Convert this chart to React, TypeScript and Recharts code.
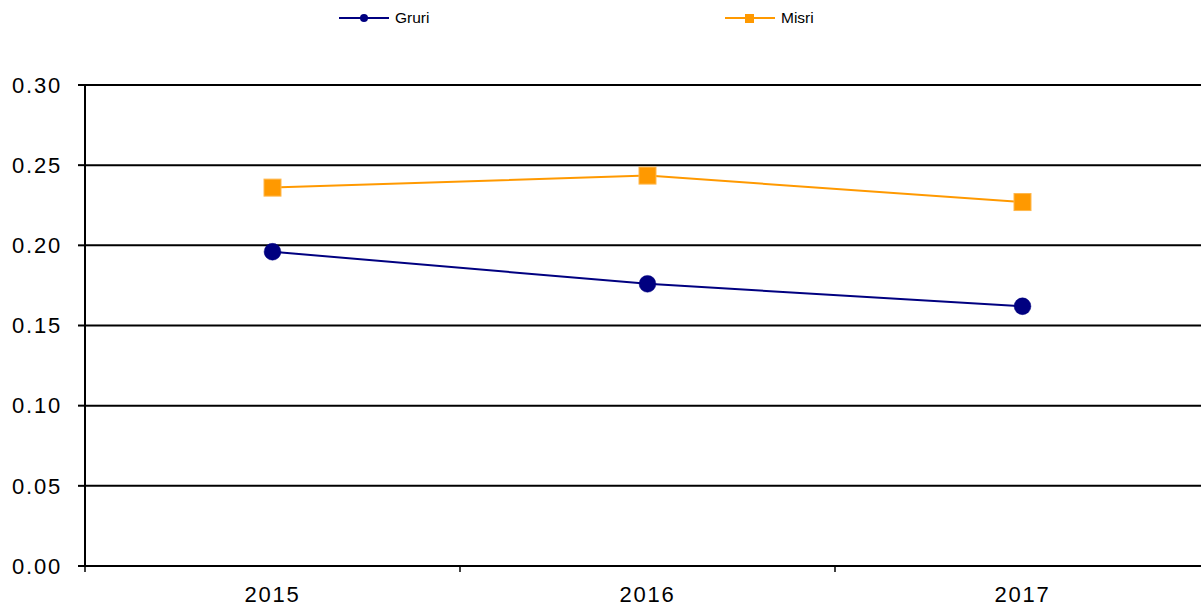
import React from 'react';
import { LineChart, Line, XAxis, YAxis, CartesianGrid } from 'recharts';

const years = ['2015', '2016', '2017'];
const gruri = [0.196, 0.176, 0.162];
const misri = [0.236, 0.2435, 0.227];
const yTicks = [0, 0.05, 0.1, 0.15, 0.2, 0.25, 0.3];

const series = [
  { key: 'gruri', name: 'Gruri', color: '#000080', marker: 'circle' },
  { key: 'misri', name: 'Misri', color: '#FF9900', marker: 'square' },
];

const data = years.map((year, i) => ({ year, gruri: gruri[i], misri: misri[i] }));

const BAND = 375;
const font = 'Arial, "Liberation Sans", sans-serif';

function CircleDot(props: any) {
  const { cx, cy } = props;
  return <circle cx={cx} cy={cy} r={8.4} fill="#000080" stroke="#000080" strokeWidth={0.5} />;
}

function SquareDot(props: any) {
  const { cx, cy } = props;
  return (
    <rect x={cx - 8.5} y={cy - 8.5} width={17} height={17} fill="#FF9900" stroke="#FFB84D" strokeWidth={1} />
  );
}

function YearTick(props: any) {
  const { x, y, payload, index } = props;
  return (
    <g>
      <line x1={x - BAND / 2} y1={y} x2={x - BAND / 2} y2={y + 6} stroke="#000" strokeWidth={1.5} />
      {index === years.length - 1 && (
        <line x1={x + BAND / 2} y1={y} x2={x + BAND / 2} y2={y + 6} stroke="#000" strokeWidth={1.5} />
      )}
      <text
        x={x}
        y={y + 20.5}
        dy="0.71em"
        textAnchor="middle"
        fontSize={22}
        letterSpacing={1.8}
        fontFamily={font}
        fill="#000"
      >
        {payload.value}
      </text>
    </g>
  );
}

function TopLegend() {
  const spots = [339, 725];
  return (
    <svg
      width={1201}
      height={35}
      style={{ position: 'absolute', left: 0, top: 0, display: 'block' }}
    >
      {series.map((s, i) => {
        const x0 = spots[i];
        return (
          <g key={s.key}>
            <line x1={x0} y1={18} x2={x0 + 50} y2={18} stroke={s.color} strokeWidth={2} />
            {s.marker === 'circle' ? (
              <circle cx={x0 + 25} cy={18} r={4} fill={s.color} />
            ) : (
              <rect x={x0 + 20} y={14} width={9} height={9} fill={s.color} />
            )}
            <text x={x0 + 56} y={18} dy="0.35em" fontSize={15.5} fontFamily={font} fill="#000">
              {s.name}
            </text>
          </g>
        );
      })}
    </svg>
  );
}

export default function App() {
  return (
    <div
      style={{
        position: 'absolute',
        left: 0,
        top: 0,
        width: 1201,
        height: 607,
        overflow: 'hidden',
        background: '#fff',
      }}
    >
      <LineChart width={1210} height={607} data={data} margin={{ top: 85, right: 0, left: 0, bottom: 0 }}>
        <CartesianGrid vertical={false} horizontal stroke="#000" strokeWidth={2} />
        <XAxis
          dataKey="year"
          height={41}
          padding={{ left: BAND / 2, right: BAND / 2 }}
          axisLine={{ stroke: '#000', strokeWidth: 2 }}
          tickLine={false}
          tickSize={0}
          tickMargin={0}
          tick={<YearTick />}
          interval={0}
        />
        <YAxis
          width={85}
          domain={[0, 0.3]}
          ticks={yTicks}
          interval={0}
          tickFormatter={(v: number) => v.toFixed(2)}
          axisLine={{ stroke: '#000', strokeWidth: 2 }}
          tickLine={{ stroke: '#000', strokeWidth: 2 }}
          tickSize={7}
          tickMargin={16}
          tick={{ fill: '#000', fontSize: 22, fontFamily: font, letterSpacing: 1.8 }}
        />
        <Line
          dataKey="gruri"
          name="Gruri"
          stroke="#000080"
          strokeWidth={2}
          dot={<CircleDot />}
          activeDot={false}
          isAnimationActive={false}
        />
        <Line
          dataKey="misri"
          name="Misri"
          stroke="#FF9900"
          strokeWidth={2}
          dot={<SquareDot />}
          activeDot={false}
          isAnimationActive={false}
        />
      </LineChart>
      <TopLegend />
    </div>
  );
}
